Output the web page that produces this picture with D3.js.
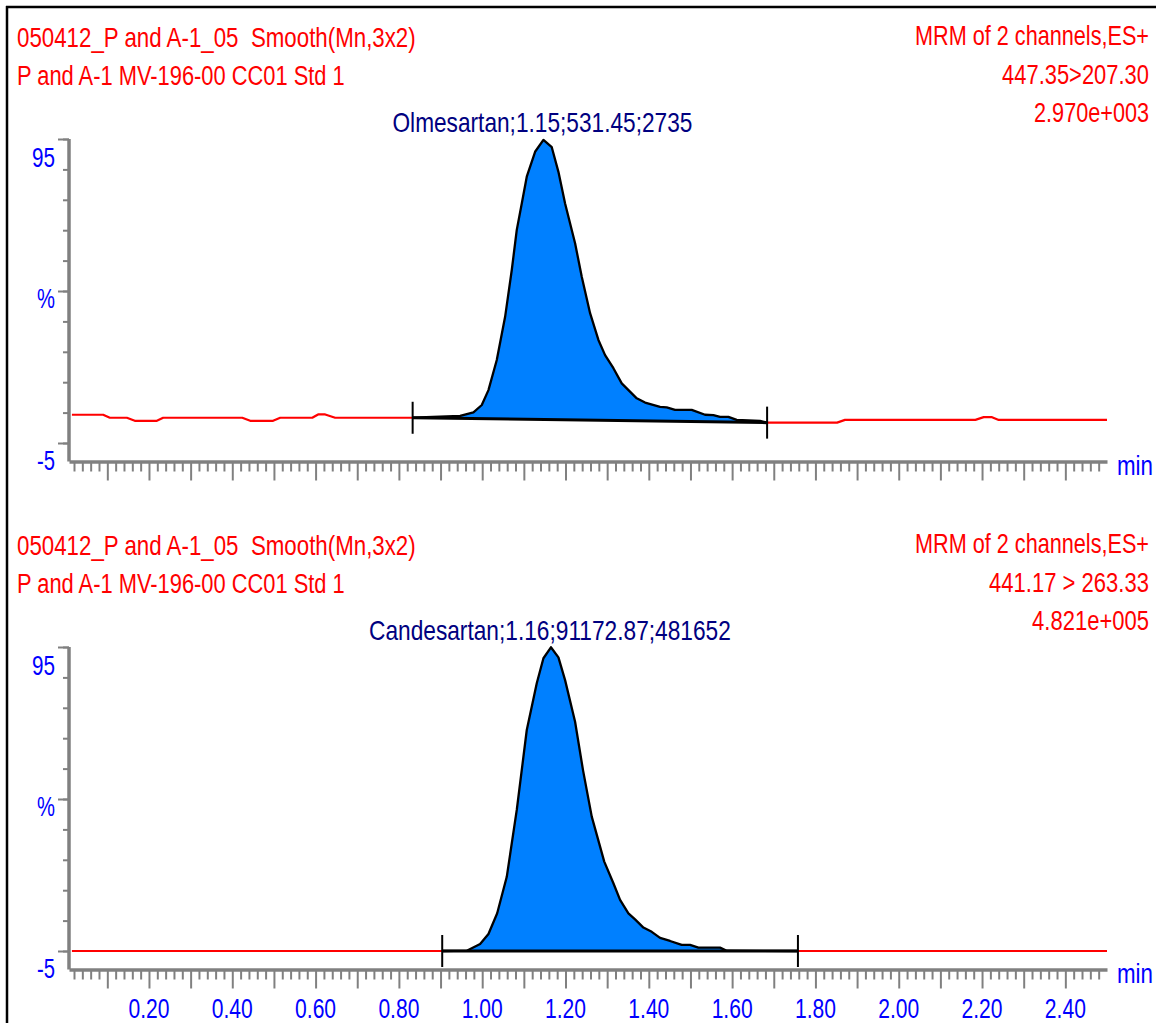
<!DOCTYPE html>
<html>
<head>
<meta charset="utf-8">
<script src="https://cdn.jsdelivr.net/npm/d3@7"></script>
<style>
  html, body { margin: 0; padding: 0; background: #ffffff; }
  svg { display: block; }
  text { white-space: pre; }
</style>
</head>
<body>
<svg id="chart" width="1156" height="1023"></svg>
<script>
// ---- Channel 1: Olmesartan, MRM 447.35>207.30 (time in min, intensity in %) ----
const olmTime = [0.015, 0.090, 0.106, 0.147, 0.166, 0.219, 0.234, 0.424, 0.443, 0.498,
  0.515, 0.592, 0.606, 0.623, 0.647, 0.833, 0.947, 0.979, 0.999, 1.015,
  1.035, 1.055, 1.071, 1.083, 1.095, 1.107, 1.127, 1.147, 1.167, 1.183,
  1.199, 1.223, 1.239, 1.259, 1.279, 1.295, 1.315, 1.335, 1.371, 1.391,
  1.427, 1.443, 1.463, 1.503, 1.535, 1.555, 1.571, 1.591, 1.611, 1.667,
  1.684, 1.852, 1.871, 2.184, 2.204, 2.224, 2.240, 2.500];
const olmPct = [4.3, 4.3, 3.3, 3.3, 2.3, 2.3, 3.3, 3.3, 2.3, 2.3,
  3.3, 3.3, 4.4, 4.4, 3.3, 3.3, 3.9, 5.1, 7.5, 12.4,
  22.3, 36.5, 51.9, 65.1, 73.8, 82.6, 90.8, 94.7, 92.3, 84.2,
  73.8, 60.7, 49.7, 37.7, 28.9, 23.9, 19.6, 14.6, 9.7, 8.3,
  6.9, 6.7, 5.9, 5.9, 4.3, 4.2, 3.6, 3.6, 2.6, 2.3,
  1.7, 1.7, 2.6, 2.6, 3.5, 3.5, 2.6, 2.6];
const olmIntegration = [0.833, 1.684];

// ---- Channel 2: Candesartan, MRM 441.17 > 263.33 ----
const candTime = [0.015, 0.904, 0.963, 0.995, 1.015, 1.036, 1.059, 1.083, 1.107, 1.131,
  1.147, 1.165, 1.183, 1.199, 1.223, 1.242, 1.263, 1.293, 1.315, 1.331,
  1.351, 1.367, 1.387, 1.407, 1.427, 1.451, 1.479, 1.499, 1.519, 1.571,
  1.587, 1.758, 2.500];
const candPct = [-5.0, -5.0, -4.9, -2.7, 0.6, 7.4, 19.4, 41.4, 67.7, 83.1,
  91.3, 94.9, 91.6, 84.1, 70.4, 54.5, 39.2, 24.4, 17.3, 11.8,
  7.4, 5.4, 2.7, 1.3, -0.7, -1.7, -3.0, -3.0, -3.9, -3.9,
  -4.9, -5.0, -5.0];
const candIntegration = [0.904, 1.758];

// ---- Text ----
const headerLeft = ["050412_P and A-1_05  Smooth(Mn,3x2)", "P and A-1 MV-196-00 CC01 Std 1"];
const olmHeaderRight = ["MRM of 2 channels,ES+", "447.35>207.30", "2.970e+003"];
const candHeaderRight = ["MRM of 2 channels,ES+", "441.17 > 263.33", "4.821e+005"];
const olmPeakLabel = "Olmesartan;1.15;531.45;2735";
const candPeakLabel = "Candesartan;1.16;91172.87;481652";

// ---- Axes ----
const yTicks = [95, 85, 75, 65, 55, 45, 35, 25, 15, 5, -5];
const yMajorTicks = [95, 45, -5];
const yTickLabels = ["95", "%", "-5"];
const xLabelTimes = [0.2, 0.4, 0.6, 0.8, 1.0, 1.2, 1.4, 1.6, 1.8, 2.0, 2.2, 2.4];
const xTickLabels = ["0.20", "0.40", "0.60", "0.80", "1.00", "1.20", "1.40", "1.60", "1.80", "2.00", "2.20", "2.40"];
const xUnit = "min";

// ---- Styling ----
const RED = "#ff0000", NAVY = "#000080", BLUE = "#0000ff", FILL = "#0080ff", GREY = "#808080";
const FONT = "'Liberation Sans', Arial, sans-serif";
const FONT_SIZE = 28;
// rendered widths (px) of the narrow instrument font
const W = {
  headerLeft: [399, 328],
  olmRight: [234, 147, 115],
  candRight: [234, 160, 117],
  olmPeak: 300,
  candPeak: 362,
  yLabels: [23, 18, 18],
  unit: 36,
  xLabel: 41
};

const svg = d3.select("#chart");

// outer frame (top and left edges)
svg.append("line").attr("x1", 6).attr("x2", 1156).attr("y1", 7).attr("y2", 7)
  .attr("stroke", "#000").attr("stroke-width", 2.5);
svg.append("line").attr("x1", 7).attr("x2", 7).attr("y1", 6).attr("y2", 1023)
  .attr("stroke", "#000").attr("stroke-width", 2.5);

const x = d3.scaleLinear().domain([0.008, 2.5]).range([69, 1107]);

// text squeezed horizontally to a given width, anchored at (px, py)
function addText(g, str, px, py, anchor, color, width) {
  const t = g.append("text")
    .attr("x", 0).attr("y", 0)
    .attr("text-anchor", anchor)
    .attr("fill", color)
    .attr("font-family", FONT)
    .attr("font-size", FONT_SIZE)
    .text(str);
  const natural = t.node().getComputedTextLength();
  const sx = width / natural;
  t.attr("transform", `translate(${px},${py}) scale(${sx},1)`);
  return t;
}

function drawPanel(offset, time, pct, integ, headerRight, rightW, peakLabel, peakW, showLabels) {
  const g = svg.append("g").attr("transform", `translate(0,${offset})`);
  const y = d3.scaleLinear().domain([-5, 95]).range([443, 139]);
  const axisY = 461.5;
  const pts = time.map((t, i) => ({ t, v: pct[i] }));

  // header text
  headerLeft.forEach((s, i) => addText(g, s, 17, [46.5, 84.5][i], "start", RED, W.headerLeft[i]));
  headerRight.forEach((s, i) => addText(g, s, 1149, [45, 84, 121.5][i], "end", RED, rightW[i]));

  // peak annotation centred over the apex
  const apex = pts.reduce((a, b) => (b.v > a.v ? b : a));
  addText(g, peakLabel, x(apex.t) - 1, 131.5, "middle", NAVY, peakW);

  // y axis
  g.append("line").attr("x1", 69).attr("x2", 69).attr("y1", y(95)).attr("y2", axisY)
    .attr("stroke", GREY).attr("stroke-width", 3.5);
  const yMinor = g.append("g").attr("transform", "translate(69,0)")
    .call(d3.axisLeft(y).tickValues(yTicks).tickSize(6).tickSizeOuter(0).tickFormat(""));
  const yMajor = g.append("g").attr("transform", "translate(69,0)")
    .call(d3.axisLeft(y).tickValues(yMajorTicks).tickSize(11).tickSizeOuter(0).tickFormat(""));
  [yMinor, yMajor].forEach(a => {
    a.select(".domain").remove();
    a.selectAll(".tick line").attr("stroke", GREY).attr("stroke-width", 2);
  });
  const yLabelBaselines = [y(95) + 27.5, y(45) + 17, y(-5) + 27];
  yTickLabels.forEach((s, i) => addText(g, s, 55, yLabelBaselines[i], "end", BLUE, W.yLabels[i]));

  // x axis: minor ticks every 0.02 min, long ticks every 0.1 min
  const minor = d3.range(1, 125).map(i => i / 50).filter((d, i) => (i + 1) % 5 !== 0);
  const major = d3.range(1, 25).map(i => i / 10);
  const xMinor = g.append("g").attr("transform", `translate(0,${axisY})`)
    .call(d3.axisBottom(x).tickValues(minor).tickSize(10).tickSizeOuter(0).tickFormat(""));
  const xMajor = g.append("g").attr("transform", `translate(0,${axisY})`)
    .call(d3.axisBottom(x).tickValues(major).tickSize(19).tickSizeOuter(0).tickFormat(""));
  xMinor.select(".domain").attr("stroke", GREY).attr("stroke-width", 3.5);
  xMajor.select(".domain").remove();
  [xMinor, xMajor].forEach(a => a.selectAll(".tick line").attr("stroke", GREY).attr("stroke-width", 2));
  addText(g, xUnit, 1117, 475, "start", BLUE, W.unit);
  if (showLabels) {
    xTickLabels.forEach((s, i) => addText(g, s, x(xLabelTimes[i]), 1018 - offset, "middle", BLUE, W.xLabel));
  }

  // trace: red outside the integration window, black outline + blue fill inside
  const [ts, te] = integ;
  const vs = pts.find(p => p.t === ts).v;
  const ve = pts.find(p => p.t === te).v;
  const base = t => vs + (ve - vs) * (t - ts) / (te - ts);
  const inside = pts.filter(p => p.t >= ts && p.t <= te);
  const before = pts.filter(p => p.t <= ts);
  const after = pts.filter(p => p.t >= te);

  const line = d3.line().x(p => x(p.t)).y(p => y(p.v));
  const area = d3.area().x(p => x(p.t)).y0(p => y(base(p.t))).y1(p => y(p.v));

  g.append("path").datum(inside).attr("d", area).attr("fill", FILL);
  [before, after].forEach(seg => g.append("path").datum(seg).attr("d", line)
    .attr("fill", "none").attr("stroke", RED).attr("stroke-width", 2.2).attr("stroke-linejoin", "round"));
  g.append("path").datum(inside).attr("d", line)
    .attr("fill", "none").attr("stroke", "#000").attr("stroke-width", 2.3).attr("stroke-linejoin", "round");
  g.append("line").attr("x1", x(ts)).attr("x2", x(te)).attr("y1", y(vs)).attr("y2", y(ve))
    .attr("stroke", "#000").attr("stroke-width", 3);
  [[ts, vs], [te, ve]].forEach(([t, v]) => g.append("line")
    .attr("x1", x(t)).attr("x2", x(t)).attr("y1", y(v) - 16).attr("y2", y(v) + 16)
    .attr("stroke", "#000").attr("stroke-width", 2));
}

drawPanel(0, olmTime, olmPct, olmIntegration, olmHeaderRight, W.olmRight, olmPeakLabel, W.olmPeak, false);
drawPanel(508, candTime, candPct, candIntegration, candHeaderRight, W.candRight, candPeakLabel, W.candPeak, true);
</script>
</body>
</html>
